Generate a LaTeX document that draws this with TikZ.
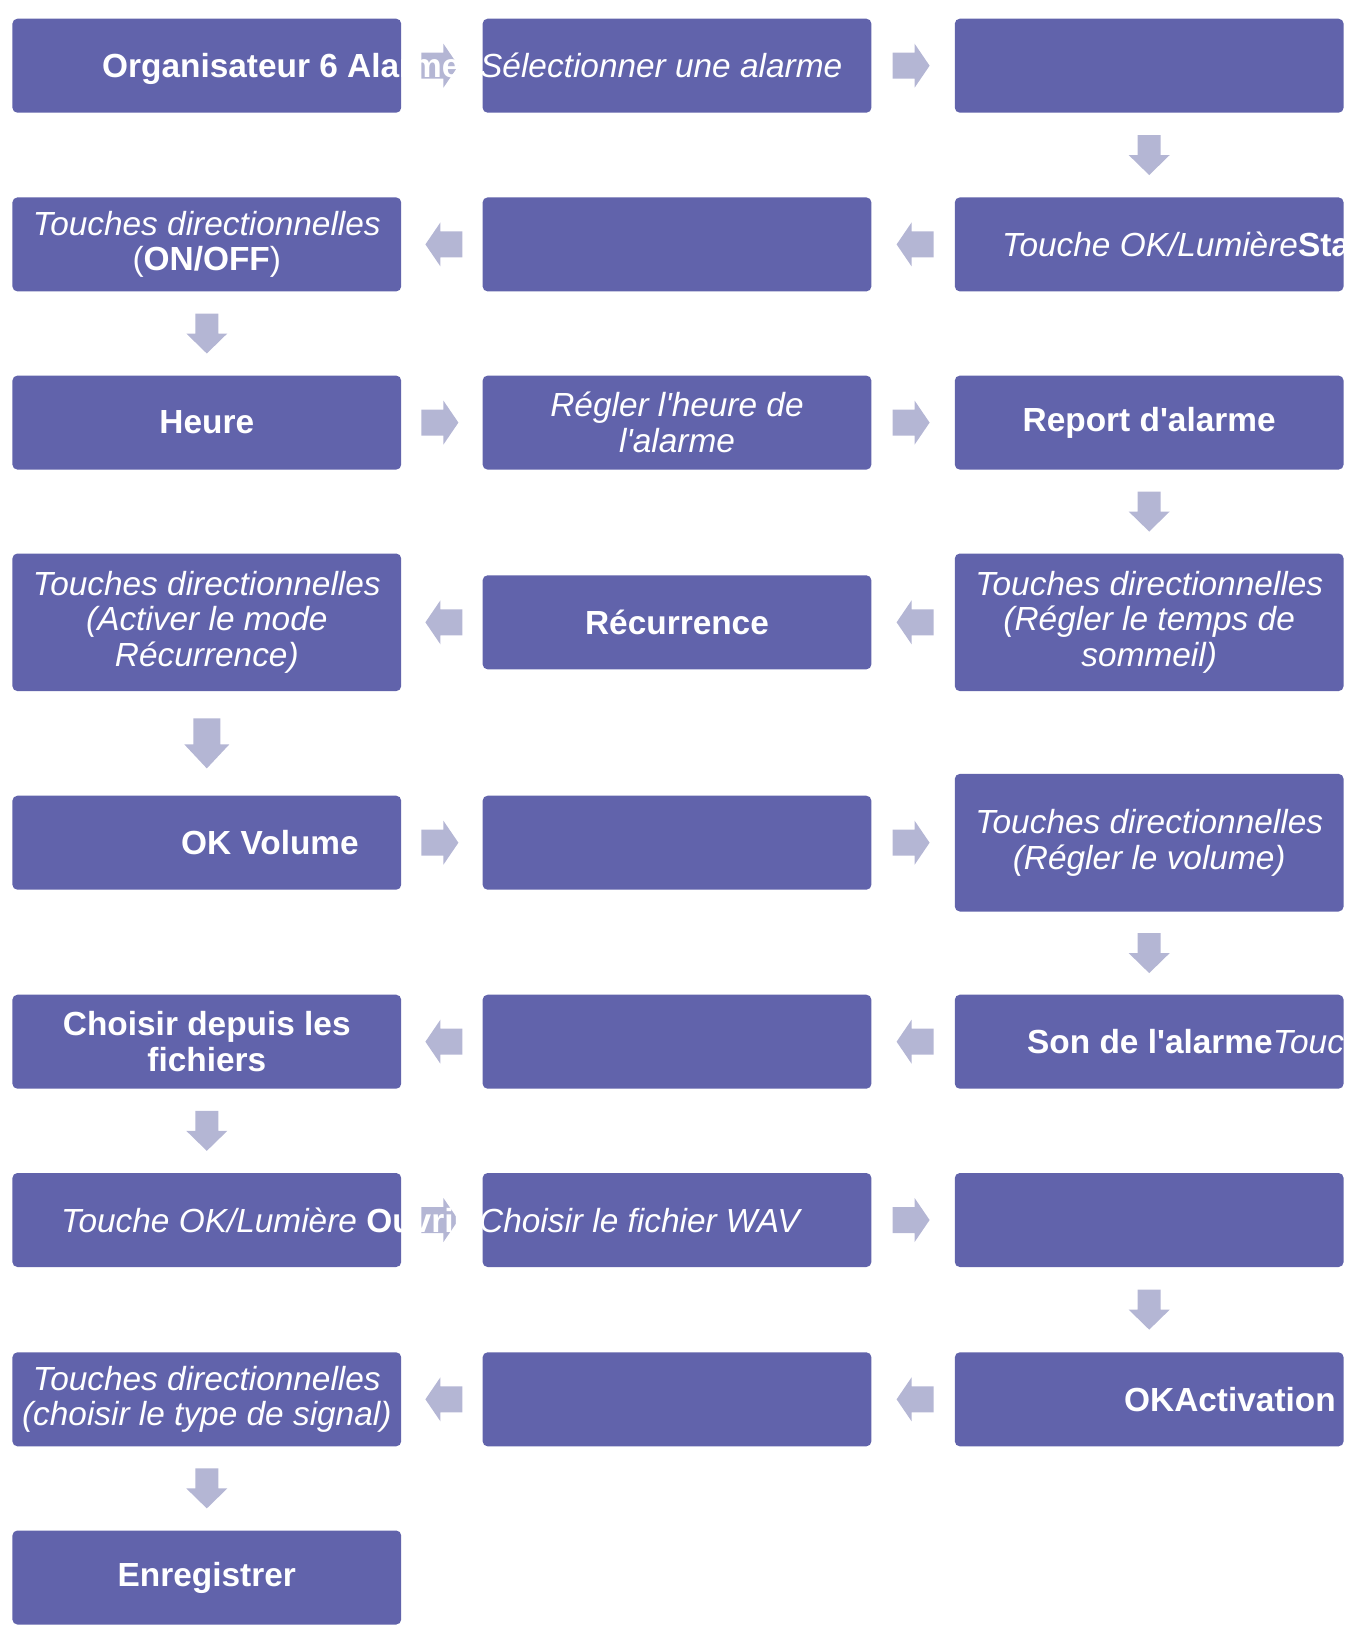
\documentclass[tikz,border=0pt]{standalone}
\usepackage{fontspec}
\setmainfont{Liberation Sans}[Ligatures=TeXOff]
\usetikzlibrary{calc}
\definecolor{boxblue}{RGB}{97,99,171}
\definecolor{arrowgrey}{RGB}{180,182,212}
\tikzset{
  box/.style={fill=boxblue, rounded corners=5pt, minimum width=388.8pt, minimum height=94pt,
    inner sep=0pt, text=white, align=center, font=\fontsize{33.4}{35.5}\selectfont},
  tallbox/.style={box, minimum height=137.6pt},
  lbl/.style={text=white, inner sep=0pt, anchor=base west, font=\fontsize{33.4}{35.5}\selectfont},
  rarr/.pic={\fill[arrowgrey] (-20.5,-13) -- (1.5,-13) -- (1.5,-22) -- (16.5,0) -- (1.5,22) -- (1.5,13) -- (-20.5,13) -- cycle;},
  larr/.pic={\fill[arrowgrey] (20.5,-13) -- (-1.5,-13) -- (-1.5,-22) -- (-16.5,0) -- (-1.5,22) -- (-1.5,13) -- (20.5,13) -- cycle;},
  darr/.pic={\fill[arrowgrey] (-11.5,-20) -- (11.5,-20) -- (11.5,0) -- (20.5,0) -- (0,20) -- (-20.5,0) -- (-11.5,0) -- cycle;},
  darrbig/.pic={\fill[arrowgrey] (-13.5,-25) -- (13.5,-25) -- (13.5,1) -- (22.5,1) -- (0,25) -- (-22.5,1) -- (-13.5,1) -- cycle;},
}
\begin{document}
\begin{tikzpicture}[x=1pt,y=-1pt]
\useasboundingbox (0,0) rectangle (1356,1634);
% row 1
\node[box] (r1c1) at (206.8,65.7) {};
\node[box] (r1c2) at (677,65.7) {};
\node[box] (r1c3) at (1149.2,65.7) {};
% row 2
\node[box] (r2c1) at (206.8,244.4) {\textit{Touches directionnelles}\\(\textbf{ON/OFF})};
\node[box] (r2c2) at (677,244.4) {};
\node[box] (r2c3) at (1149.2,244.4) {};
% row 3
\node[box] (r3c1) at (206.8,422.6) {\textbf{Heure}};
\node[box] (r3c2) at (677,422.6) {\textit{Régler l'heure de}\\\textit{l'alarme}};
\node[box] (r3c3) at (1149.2,422.6) {\textbf{Report d'alarme}};
% row 4
\node[tallbox] (r4c1) at (206.8,622.3) {\textit{Touches directionnelles}\\\textit{(Activer le mode}\\\textit{Récurrence)}};
\node[box] (r4c2) at (677,622.3) {\textbf{Récurrence}};
\node[tallbox] (r4c3) at (1149.2,622.3) {\textit{Touches directionnelles}\\\textit{(Régler le temps de}\\\textit{sommeil)}};
% row 5
\node[box] (r5c1) at (206.8,842.7) {};
\node[box] (r5c2) at (677,842.7) {};
\node[tallbox] (r5c3) at (1149.2,842.7) {\textit{Touches directionnelles}\\\textit{(Régler le volume)}};
% row 6
\node[box] (r6c1) at (206.8,1041.7) {\textbf{Choisir depuis les}\\\textbf{fichiers}};
\node[box] (r6c2) at (677,1041.7) {};
\node[box] (r6c3) at (1149.2,1041.7) {};
% row 7
\node[box] (r7c1) at (206.8,1220) {};
\node[box] (r7c2) at (677,1220) {};
\node[box] (r7c3) at (1149.2,1220) {};
% row 8
\node[box] (r8c1) at (206.8,1399.3) {\textit{Touches directionnelles}\\\textit{(choisir le type de signal)}};
\node[box] (r8c2) at (677,1399.3) {};
\node[box] (r8c3) at (1149.2,1399.3) {};
% row 9
\node[box] (r9c1) at (206.8,1577.5) {\textbf{Enregistrer}};

% arrows
\pic at ($(r1c1.east)!.5!(r1c2.west)$) {rarr};
\pic at ($(r1c2.east)!.5!(r1c3.west)$) {rarr};
\pic at ($(r1c3.south)!.5!(r2c3.north)$) {darr};
\pic at ($(r2c2.east)!.5!(r2c3.west)$) {larr};
\pic at ($(r2c1.east)!.5!(r2c2.west)$) {larr};
\pic at ($(r2c1.south)!.5!(r3c1.north)$) {darr};
\pic at ($(r3c1.east)!.5!(r3c2.west)$) {rarr};
\pic at ($(r3c2.east)!.5!(r3c3.west)$) {rarr};
\pic at ($(r3c3.south)!.5!(r4c3.north)$) {darr};
\pic at ($(r4c2.east)!.5!(r4c3.west)$) {larr};
\pic at ($(r4c1.east)!.5!(r4c2.west)$) {larr};
\pic at ($(r4c1.south)!.5!(r5c1.north)$) {darrbig};
\pic at ($(r5c1.east)!.5!(r5c2.west)$) {rarr};
\pic at ($(r5c2.east)!.5!(r5c3.west)$) {rarr};
\pic at ($(r5c3.south)!.5!(r6c3.north)$) {darr};
\pic at ($(r6c2.east)!.5!(r6c3.west)$) {larr};
\pic at ($(r6c1.east)!.5!(r6c2.west)$) {larr};
\pic at ($(r6c1.south)!.5!(r7c1.north)$) {darr};
\pic at ($(r7c1.east)!.5!(r7c2.west)$) {rarr};
\pic at ($(r7c2.east)!.5!(r7c3.west)$) {rarr};
\pic at ($(r7c3.south)!.5!(r8c3.north)$) {darr};
\pic at ($(r8c2.east)!.5!(r8c3.west)$) {larr};
\pic at ($(r8c1.east)!.5!(r8c2.west)$) {larr};
\pic at ($(r8c1.south)!.5!(r9c1.north)$) {darr};

% labels that run past their boxes
\node[lbl] (t11) at (102,77.7) {\textbf{Organisateur 6 Alarme}};
\node[lbl] (t12) at (480,77.7) {\textit{Sélectionner une alarme}};
\node[lbl] (t23) at (1002,256.4) {\textit{Touche OK/Lumière}\textbf{Sta}};
\node[lbl] (t51) at (181,854.7) {\textbf{OK Volume}};
\node[lbl] (t63) at (1027,1053.7) {\textbf{Son de l'alarme}\textit{Touc}};
\node[lbl] (t71) at (61,1232) {\textit{Touche OK/Lumière} \textbf{Ouvrir}};
\node[lbl] (t72) at (479,1232) {\textit{Choisir le fichier WAV}};
\node[lbl] (t83) at (1124,1411.3) {\textbf{OKActivation}};
\end{tikzpicture}
\end{document}
